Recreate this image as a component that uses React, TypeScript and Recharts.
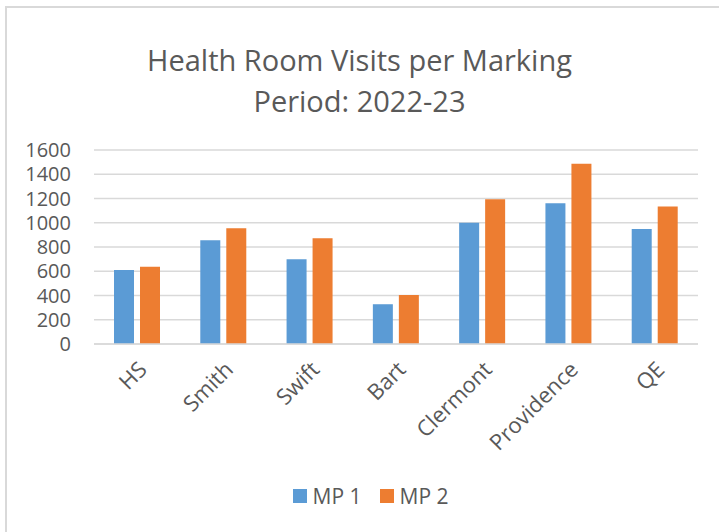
import React from "react";
import { BarChart, Bar, XAxis, YAxis, CartesianGrid } from "recharts";

const schools = ["HS", "Smith", "Swift", "Bart", "Clermont", "Providence", "QE"];
const mp1 = [610, 855, 700, 328, 1001, 1161, 949];
const mp2 = [638, 954, 872, 405, 1194, 1486, 1133];
const yTicks = [0, 200, 400, 600, 800, 1000, 1200, 1400, 1600];

const BLUE = "#5B9BD5";
const ORANGE = "#ED7D31";
const GREY = "#595959";
const FONT = "'Open Sans', sans-serif";

const data = schools.map((name, i) => ({ name, mp1: mp1[i], mp2: mp2[i] }));

export default function App() {
  return (
    <div style={{ position: "absolute", left: 0, top: 0, width: 719, height: 532, background: "#fff", fontFamily: FONT, overflow: "hidden" }}>
      <style>{`body{margin:0}`}</style>
      {/* chart frame */}
      <div
        style={{
          position: "absolute",
          left: 5,
          top: 6,
          width: 730,
          height: 540,
          borderLeft: "2px solid #d9d9d9",
          borderTop: "2px solid #d9d9d9",
        }}
      />
      <div
        style={{
          position: "absolute",
          left: 0,
          top: 39,
          width: 719,
          textAlign: "center",
          fontSize: 29,
          lineHeight: "41px",
          color: GREY,
        }}
      >
        Health Room Visits per Marking
        <br />
        Period: 2022-23
      </div>
      <div style={{ position: "absolute", left: 0, top: 0 }}>
        <BarChart
          width={719}
          height={532}
          data={data}
          margin={{ top: 150, right: 21, bottom: 88, left: 0 }}
          barSize={20}
          barGap={6}
        >
          <CartesianGrid vertical={false} stroke="#d9d9d9" strokeWidth={1.5} />
          <XAxis
            dataKey="name"
            height={100}
            stroke="#d9d9d9"
            strokeWidth={1.5}
            tickLine={false}
            tickSize={6}
            tickMargin={10}
            angle={-45}
            textAnchor="end"
            interval={0}
            tick={{ fill: GREY, fontSize: 22, fontFamily: FONT }}
          />
          <YAxis
            width={94}
            domain={[0, 1600]}
            ticks={yTicks}
            interval={0}
            axisLine={false}
            tickLine={false}
            tickMargin={17}
            tick={{ fill: GREY, fontSize: 20, fontFamily: FONT }}
          />
          <Bar dataKey="mp1" name="MP 1" fill={BLUE} isAnimationActive={false} />
          <Bar dataKey="mp2" name="MP 2" fill={ORANGE} isAnimationActive={false} />
        </BarChart>
      </div>
      {/* legend */}
      <div
        style={{
          position: "absolute",
          left: 0,
          top: 482,
          width: 719,
          display: "flex",
          justifyContent: "center",
          alignItems: "center",
          fontSize: 21,
          color: GREY,
          paddingLeft: 22,
          boxSizing: "border-box",
        }}
      >
        <span style={{ display: "inline-block", width: 14, height: 14, background: BLUE, marginRight: 6 }} />
        <span style={{ marginRight: 18 }}>MP 1</span>
        <span style={{ display: "inline-block", width: 14, height: 14, background: ORANGE, marginRight: 6 }} />
        <span>MP 2</span>
      </div>
    </div>
  );
}
